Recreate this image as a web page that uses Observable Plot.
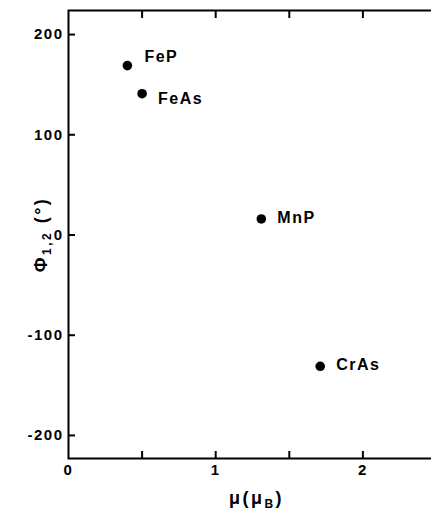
<!DOCTYPE html>
<html>
<head>
<meta charset="utf-8">
<script src="https://cdn.jsdelivr.net/npm/d3@7"></script>
<script src="https://cdn.jsdelivr.net/npm/@observablehq/plot@0.6"></script>
<style>
  html, body { margin: 0; padding: 0; background: #fff; overflow: hidden; }
  #chart svg text { letter-spacing: 1.5px; }
  #chart svg g.xlab text, #chart svg g.ylab text { letter-spacing: 2.5px; }
</style>
</head>
<body>
<div id="chart"></div>
<script>
const compounds = ["FeP", "FeAs", "MnP", "CrAs"];
const moment = [0.40, 0.50, 1.31, 1.71];
const phi = [169, 141, 16, -131];
const xTicksMinor = [0.5, 1, 1.5, 2];
const xTickLabels = [0, 1, 2];
const yTicks = [-200, -100, 0, 100, 200];
const xLabel = "μ(μB)";
const yLabel = "Φ1,2 (°)";

const data = compounds.map((name, i) => ({name, x: moment[i], y: phi[i]}));
const font = "'Liberation Sans', Arial, sans-serif";

const chart = Plot.plot({
  width: 431,
  height: 509,
  marginLeft: 68,
  marginRight: -5,
  marginTop: 10,
  marginBottom: 51,
  style: {fontFamily: font, fontWeight: "bold", fontSize: "15px", color: "#000", background: "#fff"},
  x: {domain: [0, 2.5]},
  y: {domain: [-223, 224]},
  marks: [
    Plot.frame({stroke: "#000", strokeWidth: 2}),
    Plot.axisX({anchor: "bottom", ticks: xTicksMinor, tickSize: -7, strokeWidth: 2, tickFormat: () => "", label: null}),
    Plot.axisX({anchor: "top", ticks: xTicksMinor, tickSize: -7, strokeWidth: 2, tickFormat: () => "", label: null}),
    Plot.axisX({anchor: "bottom", ticks: xTickLabels, tickSize: 0, tickPadding: 6, tickFormat: d => String(d), fontSize: 15, fontWeight: "bold", label: null}),
    Plot.axisY({anchor: "left", ticks: yTicks, tickSize: -7, strokeWidth: 2, tickPadding: 12, tickFormat: d => String(d), fontSize: 15, fontWeight: "bold", label: null}),
    Plot.axisY({anchor: "right", ticks: yTicks, tickSize: -4, strokeWidth: 2, tickFormat: () => "", label: null}),
    Plot.dot(data, {x: "x", y: "y", r: 4.8, fill: "#000", stroke: "none"}),
    Plot.text(data, {filter: d => d.name === "FeP", x: "x", y: "y", text: "name", textAnchor: "start", dx: 17, dy: -9, fontSize: 16, fontWeight: "bold"}),
    Plot.text(data, {filter: d => d.name === "FeAs", x: "x", y: "y", text: "name", textAnchor: "start", dx: 16, dy: 5, fontSize: 16, fontWeight: "bold"}),
    Plot.text(data, {filter: d => d.name === "MnP" || d.name === "CrAs", x: "x", y: "y", text: "name", textAnchor: "start", dx: 16, dy: -1, fontSize: 16, fontWeight: "bold"}),
    Plot.text([xLabel], {frameAnchor: "bottom", textAnchor: "middle", dx: 4, dy: 45, text: d => d, fontSize: 18, fontWeight: "bold", className: "xlab"}),
    Plot.text([yLabel], {frameAnchor: "left", textAnchor: "middle", dx: -27, rotate: -90, text: d => d, fontSize: 18, fontWeight: "bold", className: "ylab"})
  ]
});

document.getElementById("chart").appendChild(chart);

// subscripts in the axis titles
const xt = chart.querySelector("g.xlab text");
if (xt) {
  xt.textContent = "";
  const parts = [["μ(μ", null], ["B", "sub"], [")", "up"]];
  for (const [s, k] of parts) {
    const ts = document.createElementNS("http://www.w3.org/2000/svg", "tspan");
    ts.textContent = s;
    if (k === "sub") { ts.setAttribute("font-size", "12"); ts.setAttribute("dy", "4"); }
    else if (k === "up") { ts.setAttribute("dy", "-4"); }
    xt.appendChild(ts);
  }
}
const yt = chart.querySelector("g.ylab text");
if (yt) {
  yt.textContent = "";
  const parts = [["Φ", null], ["1,2", "sub"], [" (°)", "up"]];
  for (const [s, k] of parts) {
    const ts = document.createElementNS("http://www.w3.org/2000/svg", "tspan");
    ts.textContent = s;
    if (k === "sub") { ts.setAttribute("font-size", "12"); ts.setAttribute("dy", "4"); }
    else if (k === "up") { ts.setAttribute("dy", "-4"); }
    yt.appendChild(ts);
  }
}
</script>
</body>
</html>
